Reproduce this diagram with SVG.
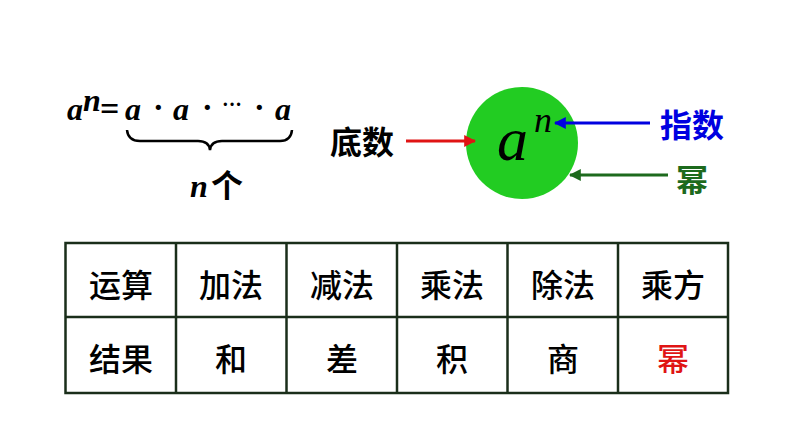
<svg xmlns="http://www.w3.org/2000/svg" width="794" height="447" viewBox="0 0 794 447">
<defs>
<style>
.cjk{font-family:"Noto Sans CJK SC","Noto Sans CJK JP",sans-serif;font-weight:bold;}
.cell{font-family:"Noto Sans CJK SC",sans-serif;font-size:32px;font-weight:500;text-anchor:middle;dominant-baseline:central;fill:#000;}
.math{font-family:'Liberation Serif','Times New Roman',serif;font-style:italic;font-weight:bold;font-size:32px;fill:#000;}
.serif{font-family:'Liberation Serif','Times New Roman',serif;}
.grid{fill:none;stroke:#1a2e1a;stroke-width:2.5;}
</style>
<marker id="ahR" viewBox="0 0 10 10" refX="9" refY="5" markerWidth="4" markerHeight="4" orient="auto" markerUnits="strokeWidth"><path d="M0,0 L10,5 L0,10 z" fill="#e01414"/></marker>
<marker id="ahB" viewBox="0 0 10 10" refX="9" refY="5" markerWidth="4" markerHeight="4" orient="auto" markerUnits="strokeWidth"><path d="M0,0 L10,5 L0,10 z" fill="#0000e0"/></marker>
<marker id="ahG" viewBox="0 0 10 10" refX="9" refY="5" markerWidth="4" markerHeight="4" orient="auto" markerUnits="strokeWidth"><path d="M0,0 L10,5 L0,10 z" fill="#1d6a1d"/></marker>
</defs>
<rect width="794" height="447" fill="#ffffff"/>

<g id="formula">
<text class="math" x="67" y="120">a</text>
<text class="math" x="83" y="111" font-size="18">n</text>
<text class="serif" x="100" y="120" font-weight="bold" font-size="34">=</text>
<text class="math" x="125" y="120">a</text>
<text class="serif" x="153" y="118" font-weight="bold" font-size="32">·</text>
<text class="math" x="173" y="120">a</text>
<text class="serif" x="202" y="118" font-weight="bold" font-size="32">·</text>
<text class="serif" x="222" y="111" font-weight="bold" font-size="20">···</text>
<text class="serif" x="254" y="118" font-weight="bold" font-size="32">·</text>
<text class="math" x="275" y="120">a</text>
<path d="M127,130 Q128,141 140,141 L198,141 Q209,141 210,150 Q211,141 222,141 L280,141 Q291,141 292,130" fill="none" stroke="#000" stroke-width="2.5"/>
<text class="math" x="190" y="197">n</text>
<text class="cjk" x="211" y="197" font-size="32">个</text>
</g>

<g id="power-circle">
<circle cx="522" cy="143" r="56" fill="#22cc22"/>
<text class="serif" x="497" y="160" font-style="italic" font-size="62" fill="#000">a</text>
<text class="serif" x="534" y="132" font-style="italic" font-size="36" fill="#000">n</text>
</g>

<g id="label-base">
<text class="cjk" x="330" y="140" font-size="32" dominant-baseline="central">底数</text>
</g>
<g id="label-exponent">
<text class="cjk" x="660" y="123" font-size="32" dominant-baseline="central" fill="#0000e0">指数</text>
</g>
<g id="label-power">
<text class="cjk" x="676" y="178" font-size="32" dominant-baseline="central" fill="#1d6a1d">幂</text>
</g>

<g id="connectors">
<line x1="406" y1="141" x2="475" y2="141" stroke="#e01414" stroke-width="3" marker-end="url(#ahR)"/>
<line x1="650" y1="123" x2="555" y2="123" stroke="#0000e0" stroke-width="3" marker-end="url(#ahB)"/>
<line x1="668" y1="175" x2="570" y2="175" stroke="#1d6a1d" stroke-width="3" marker-end="url(#ahG)"/>
</g>

<g id="table">
<rect class="grid" x="65.5" y="243" width="662.5" height="150"/>
<line class="grid" x1="65.5" y1="317" x2="728" y2="317"/>
<line class="grid" x1="176" y1="243" x2="176" y2="393"/>
<line class="grid" x1="286.5" y1="243" x2="286.5" y2="393"/>
<line class="grid" x1="397" y1="243" x2="397" y2="393"/>
<line class="grid" x1="507.5" y1="243" x2="507.5" y2="393"/>
<line class="grid" x1="618" y1="243" x2="618" y2="393"/>
<text class="cell" x="121" y="283">运算</text>
<text class="cell" x="231" y="283">加法</text>
<text class="cell" x="342" y="283">减法</text>
<text class="cell" x="452" y="283">乘法</text>
<text class="cell" x="563" y="283">除法</text>
<text class="cell" x="673" y="283">乘方</text>
<text class="cell" x="121" y="357">结果</text>
<text class="cell" x="231" y="357">和</text>
<text class="cell" x="342" y="357">差</text>
<text class="cell" x="452" y="357">积</text>
<text class="cell" x="563" y="357">商</text>
<text class="cell" x="673" y="357" style="fill:#e01414">幂</text>
</g>
</svg>
